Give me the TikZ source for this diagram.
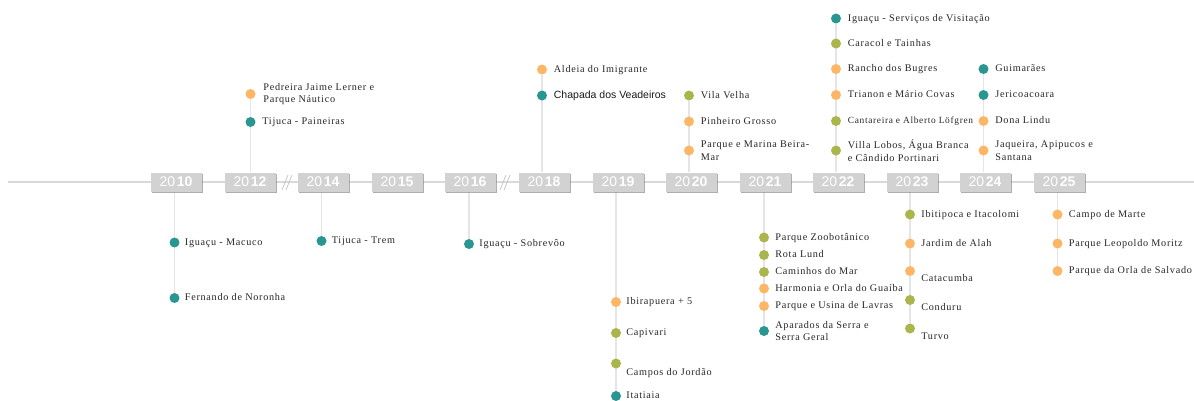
\documentclass[tikz,border=0pt]{standalone}
\usepackage{fontspec}
\setmainfont{Liberation Serif}[LetterSpace=7]
\newfontfamily\sansfont{Liberation Sans}
\usepackage{tikz}
\usetikzlibrary{positioning, shadows, backgrounds}

\definecolor{cTeal}{RGB}{42,150,146}
\definecolor{cOlive}{RGB}{170,181,76}
\definecolor{cOrange}{RGB}{253,182,102}

\newcommand{\yr}[1]{{\sansfont 20}\hspace{1.5pt}{\sansfont\bfseries #1}}

\begin{document}
\begin{tikzpicture}[
  x=1pt, y=-1pt,
  every node/.style={font=\fontsize{10.2}{12.5}\selectfont, text=black!85},
  yearbox/.style={fill=gray!35, minimum width=51pt, minimum height=19pt, inner sep=0pt,
    text=white, font=\fontsize{14}{14}\selectfont,
    drop shadow={shadow xshift=1.6pt, shadow yshift=-1.6pt, opacity=0.7, fill=gray!90}},
  bullet/.style={circle, fill=#1, minimum size=10pt, inner sep=0pt},
  lbl/.style={inner sep=0pt, text height=7pt, text depth=2pt},
  lbl2/.style={inner sep=0pt, align=left},
  stem/.style={draw=gray!20, line width=1.2pt},
  axis/.style={draw=gray!30, line width=1.6pt},
  brk/.style={draw=gray!45, line width=0.8pt}
]
\useasboundingbox (0,0) rectangle (1194,400);

% timeline
\coordinate (start) at (8,182);
\coordinate (end) at (1194,182);

\node[yearbox] (y10) at (176,182) {\yr{10}};
\node[yearbox] (y12) at (250,182) {\yr{12}};
\node[yearbox] (y14) at (323,182) {\yr{14}};
\node[yearbox] (y15) at (397,182) {\yr{15}};
\node[yearbox] (y16) at (470,182) {\yr{16}};
\node[yearbox] (y18) at (544,182) {\yr{18}};
\node[yearbox] (y19) at (618,182) {\yr{19}};
\node[yearbox] (y20) at (691,182) {\yr{20}};
\node[yearbox] (y21) at (765,182) {\yr{21}};
\node[yearbox] (y22) at (838,182) {\yr{22}};
\node[yearbox] (y23) at (912,182) {\yr{23}};
\node[yearbox] (y24) at (985,182) {\yr{24}};
\node[yearbox] (y25) at (1059,182) {\yr{25}};

% 2010
\node[bullet=cTeal] (p10a) at (174.5,242.5) {};
\node[lbl, right=5pt of p10a] (t10a) {Iguaçu - Macuco};
\node[bullet=cTeal] (p10b) at (174.5,298) {};
\node[lbl, right=5pt of p10b] (t10b) {Fernando de Noronha};

% 2012
\node[bullet=cTeal] (p12a) at (250.5,122) {};
\node[lbl, right=6.5pt of p12a] (t12a) {Tijuca - Paineiras};
\node[bullet=cOrange] (p12b) at (250.5,94) {};
\node[lbl2, right=7.5pt of p12b] (t12b) {Pedreira Jaime Lerner e\\Parque Náutico};

% 2014 / 2016
\node[bullet=cTeal] (p14a) at (321.5,241) {};
\node[lbl, right=5pt of p14a] (t14a) {Tijuca - Trem};
\node[bullet=cTeal] (p16a) at (469,244) {};
\node[lbl, right=5pt of p16a] (t16a) {Iguaçu - Sobrevôo};

% 2018
\node[bullet=cTeal] (p18a) at (542,95.5) {};
\node[lbl, right=6.5pt of p18a, font=\sansfont\fontsize{10.5}{12.5}\selectfont, text=black!90] (t18a) {Chapada dos Veadeiros};
\node[bullet=cOrange] (p18b) at (542,69.5) {};
\node[lbl, right=6.5pt of p18b] (t18b) {Aldeia do Imigrante};

% 2019
\node[bullet=cOrange] (p19a) at (616,302) {};
\node[lbl, right=5pt of p19a] (t19a) {Ibirapuera + 5};
\node[bullet=cOlive] (p19b) at (616,333) {};
\node[lbl, right=5pt of p19b] (t19b) {Capivari};
\node[bullet=cOlive] (p19c) at (616,363.5) {};
\node[lbl, right=5pt of p19c, yshift=-9.5pt] (t19c) {Campos do Jordão};
\node[bullet=cTeal] (p19d) at (616,396) {};
\node[lbl, right=5pt of p19d] (t19d) {Itatiaia};

% 2020
\node[bullet=cOrange] (p20a) at (689,150.5) {};
\node[lbl2, right=6.5pt of p20a] (t20a) {Parque e Marina Beira-\\Mar};
\node[bullet=cOrange] (p20b) at (689,121.5) {};
\node[lbl, right=6.5pt of p20b] (t20b) {Pinheiro Grosso};
\node[bullet=cOlive] (p20c) at (689,95.5) {};
\node[lbl, right=6.5pt of p20c] (t20c) {Vila Velha};

% 2021
\node[bullet=cOlive] (p21a) at (764,237.5) {};
\node[lbl, right=6pt of p21a] (t21a) {Parque Zoobotânico};
\node[bullet=cOlive] (p21b) at (764,255) {};
\node[lbl, right=6pt of p21b] (t21b) {Rota Lund};
\node[bullet=cOlive] (p21c) at (764,272) {};
\node[lbl, right=6pt of p21c] (t21c) {Caminhos do Mar};
\node[bullet=cOrange] (p21d) at (764,288.5) {};
\node[lbl, right=6pt of p21d] (t21d) {Harmonia e Orla do Guaíba};
\node[bullet=cOrange] (p21e) at (764,306) {};
\node[lbl, right=6pt of p21e] (t21e) {Parque e Usina de Lavras};
\node[bullet=cTeal] (p21f) at (764,331) {};
\node[lbl2, right=6pt of p21f] (t21f) {Aparados da Serra e\\Serra Geral};

% 2022
\node[bullet=cOlive] (p22a) at (836,150.5) {};
\node[lbl2, right=6.5pt of p22a] (t22a) {Villa Lobos, Água Branca\\e Cândido Portinari};
\node[bullet=cOlive] (p22b) at (836,121) {};
\node[lbl, right=6.5pt of p22b, font=\fontsize{9.4}{11}\selectfont] (t22b) {Cantareira e Alberto Löfgren};
\node[bullet=cOrange] (p22c) at (836,95) {};
\node[lbl, right=6.5pt of p22c] (t22c) {Trianon e Mário Covas};
\node[bullet=cOrange] (p22d) at (836,69) {};
\node[lbl, right=6.5pt of p22d] (t22d) {Rancho dos Bugres};
\node[bullet=cOlive] (p22e) at (836,43.5) {};
\node[lbl, right=6.5pt of p22e] (t22e) {Caracol e Tainhas};
\node[bullet=cTeal] (p22f) at (836,18.5) {};
\node[lbl, right=6.5pt of p22f] (t22f) {Iguaçu - Serviços de Visitação};

% 2023
\node[bullet=cOlive] (p23a) at (910,214.5) {};
\node[lbl, right=6pt of p23a] (t23a) {Ibitipoca e Itacolomi};
\node[bullet=cOrange] (p23b) at (910,243.5) {};
\node[lbl, right=6pt of p23b] (t23b) {Jardim de Alah};
\node[bullet=cOrange] (p23c) at (910,271) {};
\node[lbl, right=6pt of p23c, yshift=-8pt] (t23c) {Catacumba};
\node[bullet=cOlive] (p23d) at (910,300) {};
\node[lbl, right=6pt of p23d, yshift=-8pt] (t23d) {Conduru};
\node[bullet=cOlive] (p23e) at (910,328.5) {};
\node[lbl, right=6pt of p23e, yshift=-8pt] (t23e) {Turvo};

% 2024
\node[bullet=cOrange] (p24a) at (983.5,150.5) {};
\node[lbl2, right=6.5pt of p24a] (t24a) {Jaqueira, Apipucos e\\Santana};
\node[bullet=cOrange] (p24b) at (983.5,121) {};
\node[lbl, right=6.5pt of p24b] (t24b) {Dona Lindu};
\node[bullet=cTeal] (p24c) at (983.5,95) {};
\node[lbl, right=6.5pt of p24c] (t24c) {Jericoacoara};
\node[bullet=cTeal] (p24d) at (983.5,69) {};
\node[lbl, right=6.5pt of p24d] (t24d) {Guimarães};

% 2025
\node[bullet=cOrange] (p25a) at (1057.5,214.5) {};
\node[lbl, right=6pt of p25a] (t25a) {Campo de Marte};
\node[bullet=cOrange] (p25b) at (1057.5,243.5) {};
\node[lbl, right=6pt of p25b] (t25b) {Parque Leopoldo Moritz};
\node[bullet=cOrange] (p25c) at (1057.5,271) {};
\node[lbl, right=6pt of p25c] (t25c) {Parque da Orla de Salvado};

\begin{pgfonlayer}{background}
\draw[axis] (start) -- (end);
\draw[stem] (p10b |- y10.south) -- (p10b);
\draw[stem] (p12b |- y12.north) -- (p12b);
\draw[stem] (p14a |- y14.south) -- (p14a);
\draw[stem] (p16a |- y16.south) -- (p16a);
\draw[stem] (p18b |- y18.north) -- (p18b);
\draw[stem] (p19d |- y19.south) -- (p19d);
\draw[stem] (p20c |- y20.north) -- (p20c);
\draw[stem] (p21f |- y21.south) -- (p21f);
\draw[stem] (p22f |- y22.north) -- (p22f);
\draw[stem] (p23e |- y23.south) -- (p23e);
\draw[stem] (p24d |- y24.north) -- (p24d);
\draw[stem] (p25c |- y25.south) -- (p25c);
\end{pgfonlayer}

% breaks in the scale
\draw[brk] (282,190) -- (288,175);
\draw[brk] (286,190) -- (292,175);
\draw[brk] (500,190) -- (506,175);
\draw[brk] (504,190) -- (510,175);
\end{tikzpicture}
\end{document}
